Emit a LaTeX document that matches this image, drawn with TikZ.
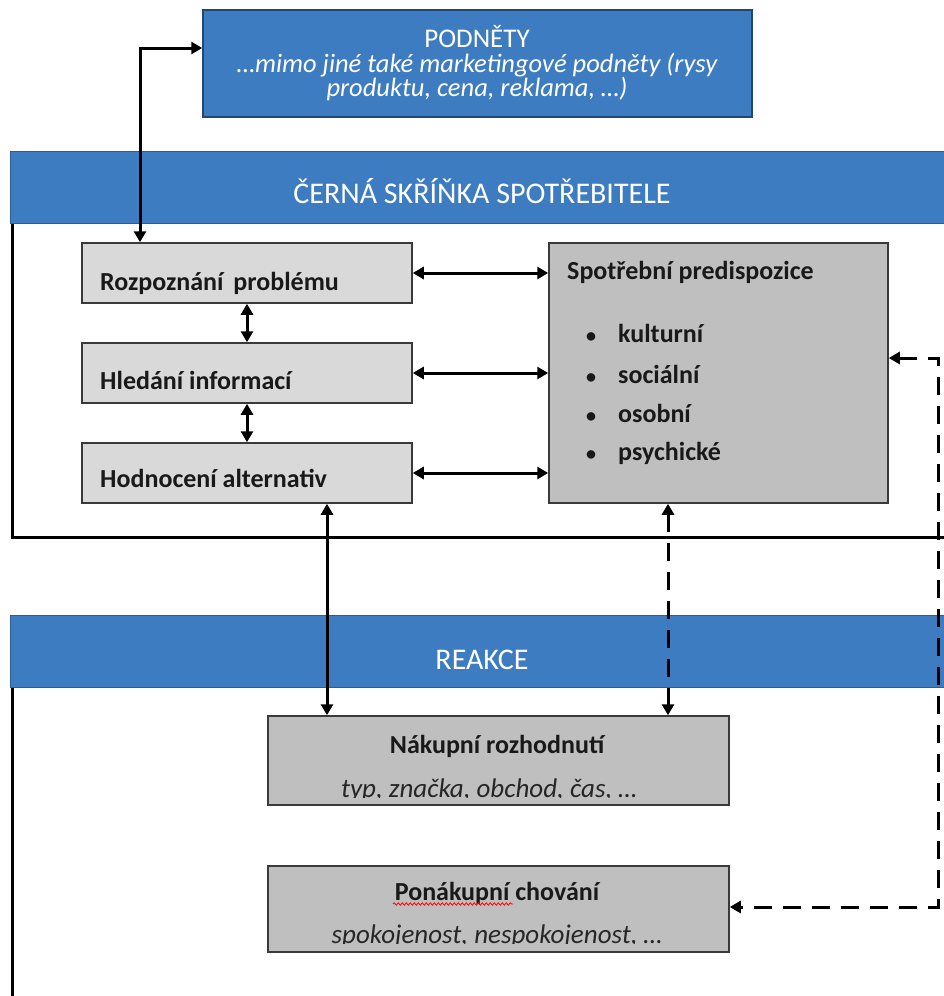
\documentclass[tikz,border=0pt]{standalone}
\usepackage{fontspec}
\setmainfont{Carlito}
\usetikzlibrary{arrows.meta,decorations.pathmorphing}
\definecolor{hblue}{HTML}{3D7CC0}
\definecolor{hblueline}{HTML}{2C5D94}
\definecolor{podline}{HTML}{23476F}
\definecolor{lgray}{HTML}{D9D9D9}
\definecolor{mgray}{HTML}{BFBFBF}
\definecolor{bline}{HTML}{3A3A3A}
\newcommand{\mybul}{\llap{{\fontsize{20}{20}\selectfont •}\hspace{22pt}}}
\begin{document}
\begin{tikzpicture}[x=1pt,y=-1pt,
  band/.style={fill=hblue, draw=hblueline, line width=1pt, minimum width=944pt, minimum height=72pt, inner sep=0pt},
  bandtext/.style={text=white, font=\fontsize{30}{32}\selectfont, anchor=base, inner sep=0pt},
  lbox/.style={fill=lgray, draw=bline, line width=1.5pt, minimum width=330pt, minimum height=60pt, inner sep=0pt},
  gbox/.style={fill=mgray, draw=bline, line width=1.5pt, inner sep=0pt},
  btext/.style={font=\fontsize{26}{28}\selectfont\bfseries, text=black!90, inner sep=0pt},
  itext/.style={font=\fontsize{27}{28}\selectfont\itshape, text=black!85, inner sep=0pt},
  arr/.style={line width=3pt, {Triangle[length=11pt,width=12pt]}-{Triangle[length=11pt,width=12pt]}},
  darr/.style={arr, dash pattern=on 18pt off 11pt},
  frameline/.style={line width=3pt}]
\useasboundingbox (0,0) rectangle (944,996);
\clip (0,0) rectangle (944,996);

% frames
\draw[frameline] (12,223) -- (12,537) -- (960,537);
\draw[frameline] (12,688) -- (12,1000);

% top box
\node[fill=hblue, draw=podline, line width=1.5pt, minimum width=549pt, minimum height=107pt, inner sep=0pt] (pod) at (477.5,63.5) {};
\node[text=white, font=\fontsize{27}{29}\selectfont, anchor=base, inner sep=0pt] (podt) at (477,47) {PODNĚTY};
\node[text=white, font=\fontsize{26.5}{24}\selectfont\itshape, align=center, inner sep=0pt] (pods) at (477,77) {…mimo jiné také marketingové podněty (rysy\\produktu, cena, reklama, …)};

% bands
\node[band] (cbs) at (482,187) {};
\node[bandtext] (cbst) at (482,203) {ČERNÁ SKŘÍŇKA SPOTŘEBITELE};
\node[band] (rea) at (482,651.5) {};
\node[bandtext] (reat) at (482,669.5) {REAKCE};

% left boxes
\node[lbox] (rp) at (247,273) {};
\node[lbox] (hl) at (247,373) {};
\node[lbox] (ho) at (247,473) {};
\node[btext, anchor=base west] (rpt) at (100,290) {Rozpoznání\hspace{0.38em}problému};
\node[btext, anchor=base west] (hlt) at (100,389) {Hledání informací};
\node[btext, anchor=base west] (hot) at (100,487) {Hodnocení alternativ};

% right box
\node[gbox, minimum width=339pt, minimum height=260pt] (pre) at (718.5,373) {};
\node[btext, anchor=base west] (pret) at (567,279) {Spotřební predispozice};
\node[btext, anchor=base west] (b1) at (618,342) {\mybul kulturní};
\node[btext, anchor=base west] (b2) at (618,383) {\mybul sociální};
\node[btext, anchor=base west] (b3) at (618,422) {\mybul osobní};
\node[btext, anchor=base west] (b4) at (618,460) {\mybul psychické};

% reaction boxes
\node[gbox, minimum width=461pt, minimum height=89pt] (nak) at (498.5,760.5) {};
\node[btext, anchor=base] (nakt) at (497,753) {Nákupní rozhodnutí};
\begin{scope}
\clip (268,716) rectangle (729,797.5);
\node[itext, anchor=base] (naks) at (489,797) {typ, značka, obchod, čas, …};
\end{scope}
\node[gbox, minimum width=461pt, minimum height=86pt] (pon) at (498.5,909) {};
\node[btext, anchor=base] (pont) at (497,900) {Ponákupní chování};
\begin{scope}
\clip (268,866) rectangle (729,943.5);
\node[itext, anchor=base] (pons) at (497,943) {spokojenost, nespokojenost, …};
\end{scope}
\draw[red, line width=0.8pt, decorate, decoration={snake, amplitude=1.2pt, segment length=4pt}] (393,904) -- (513,904);

% connectors
\coordinate (tk) at (140,48);
\draw[arr] (rp.north -| tk) -- (tk) -- (pod.west |- tk);
\draw[arr] (rp.south) -- (hl.north);
\draw[arr] (hl.south) -- (ho.north);
\draw[arr] (rp.east) -- (pre.west |- rp.east);
\draw[arr] (hl.east) -- (pre.west |- hl.east);
\draw[arr] (ho.east) -- (pre.west |- ho.east);
\coordinate (vs) at (327,600);
\draw[arr] (ho.south -| vs) -- (nak.north -| vs);
\coordinate (vd) at (668,600);
\draw[darr] (pre.south -| vd) -- (nak.north -| vd);
\coordinate (dk1) at (938,358);
\coordinate (dk2) at (938,907);
\draw[darr] (pre.east |- dk1) -- (dk1) -- (dk2) -- (pon.east |- dk2);
\end{tikzpicture}
\end{document}
